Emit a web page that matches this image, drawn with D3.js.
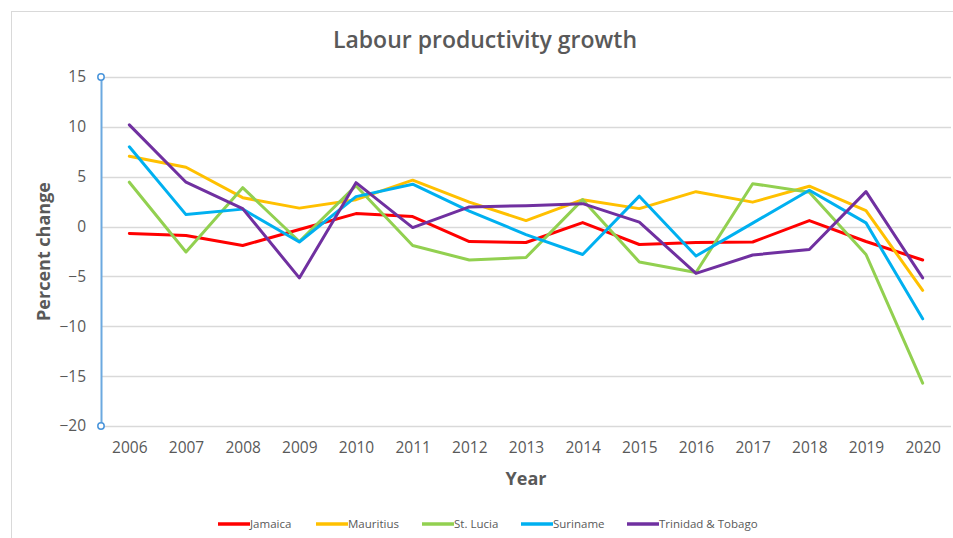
<!DOCTYPE html>
<html>
<head>
<meta charset="utf-8">
<script src="https://cdn.jsdelivr.net/npm/d3@7/dist/d3.min.js"></script>
<style>
  html, body { margin: 0; padding: 0; background: #fff; }
  svg { display: block; font-family: "Open Sans", Lato, sans-serif; }
</style>
</head>
<body>
<svg id="chart" width="953" height="538"></svg>
<script>
// Labour productivity growth, percent change per year
const years = [2006, 2007, 2008, 2009, 2010, 2011, 2012, 2013, 2014, 2015, 2016, 2017, 2018, 2019, 2020];

const jamaica   = [-0.7, -0.9, -1.9, -0.3, 1.3, 1.0, -1.5, -1.6, 0.4, -1.8, -1.6, -1.55, 0.6, -1.5, -3.35];
const mauritius = [7.05, 5.95, 2.9, 1.85, 2.7, 4.65, 2.45, 0.6, 2.7, 1.8, 3.5, 2.45, 4.05, 1.6, -6.4];
const stLucia   = [4.45, -2.55, 3.9, -1.5, 4.1, -1.9, -3.35, -3.1, 2.7, -3.55, -4.6, 4.3, 3.45, -2.8, -15.7];
const suriname  = [8.0, 1.2, 1.75, -1.55, 3.0, 4.25, 1.55, -0.8, -2.8, 3.05, -2.95, 0.35, 3.65, 0.37, -9.25];
const trinidad  = [10.2, 4.45, 1.8, -5.15, 4.4, -0.1, 1.97, 2.1, 2.3, 0.45, -4.7, -2.85, -2.3, 3.5, -5.15];

const seriesNames  = ["Jamaica", "Mauritius", "St. Lucia", "Suriname", "Trinidad & Tobago"];
const seriesValues = [jamaica, mauritius, stLucia, suriname, trinidad];
const seriesColors = ["#FF0000", "#FFC000", "#92D050", "#00B0F0", "#7030A0"];

const yTicks = [-20, -15, -10, -5, 0, 5, 10, 15];

const svg = d3.select("#chart");
const W = 953, H = 538;
const plot = { left: 101, right: 951, top: 77, bottom: 426 };
const textColor = "#595959";

// Chart frame
svg.append("rect")
  .attr("x", 11.5).attr("y", 11.5)
  .attr("width", W + 10).attr("height", H + 10)
  .attr("fill", "#fff").attr("stroke", "#d9d9d9").attr("stroke-width", 1);

const x = d3.scalePoint().domain(years).range([plot.left, plot.right]).padding(0.5);
const y = d3.scaleLinear().domain([-20, 15]).range([plot.bottom, plot.top]);

// Horizontal gridlines
svg.append("g")
  .selectAll("line")
  .data(yTicks)
  .join("line")
  .attr("x1", plot.left).attr("x2", plot.right)
  .attr("y1", d => Math.round(y(d)) + 0.5).attr("y2", d => Math.round(y(d)) + 0.5)
  .attr("stroke", "#d9d9d9").attr("stroke-width", 1.3);

// Y axis
const yAxis = svg.append("g")
  .attr("transform", `translate(${plot.left},0)`)
  .call(d3.axisLeft(y).tickValues(yTicks).tickSize(0).tickPadding(15).tickFormat(d3.format("d")));
yAxis.select(".domain").attr("stroke", "#6CA9E0").attr("stroke-width", 2);
yAxis.selectAll("text")
  .attr("fill", textColor).attr("font-size", 15.5).attr("font-family", "'Open Sans', sans-serif");

// End markers on the vertical axis
svg.append("g")
  .selectAll("circle")
  .data(y.domain())
  .join("circle")
  .attr("cx", plot.left).attr("cy", d => y(d))
  .attr("r", 3.2)
  .attr("fill", "#fff").attr("stroke", "#4A95DB").attr("stroke-width", 1.5);

// X axis labels
const xAxis = svg.append("g")
  .attr("transform", `translate(0,${plot.bottom})`)
  .call(d3.axisBottom(x).tickSize(0).tickPadding(16).tickFormat(d3.format("d")));
xAxis.select(".domain").remove();
xAxis.selectAll("text")
  .attr("fill", textColor).attr("font-size", 15.5).attr("font-family", "'Open Sans', sans-serif");

// Series lines
const line = d3.line()
  .x((d, i) => x(years[i]))
  .y(d => y(d));

svg.append("g")
  .selectAll("path")
  .data(seriesValues)
  .join("path")
  .attr("d", d => line(d))
  .attr("fill", "none")
  .attr("stroke", (d, i) => seriesColors[i])
  .attr("stroke-width", 3)
  .attr("stroke-linejoin", "round")
  .attr("stroke-linecap", "round");

// Titles
svg.append("text")
  .attr("x", 485).attr("y", 48)
  .attr("text-anchor", "middle")
  .attr("fill", textColor)
  .attr("font-size", 23).attr("font-weight", 600)
  .text("Labour productivity growth");

svg.append("text")
  .attr("transform", `translate(50,${(plot.top + plot.bottom) / 2}) rotate(-90)`)
  .attr("text-anchor", "middle")
  .attr("fill", textColor)
  .attr("font-size", 18).attr("font-weight", 700)
  .text("Percent change");

svg.append("text")
  .attr("x", 526).attr("y", 485)
  .attr("text-anchor", "middle")
  .attr("fill", textColor)
  .attr("font-size", 18).attr("font-weight", 700)
  .text("Year");

// Legend
const legendX = [218, 316, 422, 521, 627];
const legend = svg.append("g")
  .selectAll("g")
  .data(seriesNames)
  .join("g")
  .attr("transform", (d, i) => `translate(${legendX[i]},524)`);
legend.append("line")
  .attr("x1", 0).attr("x2", 32).attr("y1", 0).attr("y2", 0)
  .attr("stroke", (d, i) => seriesColors[i]).attr("stroke-width", 3.5);
legend.append("text")
  .attr("x", 32).attr("y", 4)
  .attr("fill", textColor)
  .attr("font-size", 11.5)
  .text(d => d);
</script>
</body>
</html>
